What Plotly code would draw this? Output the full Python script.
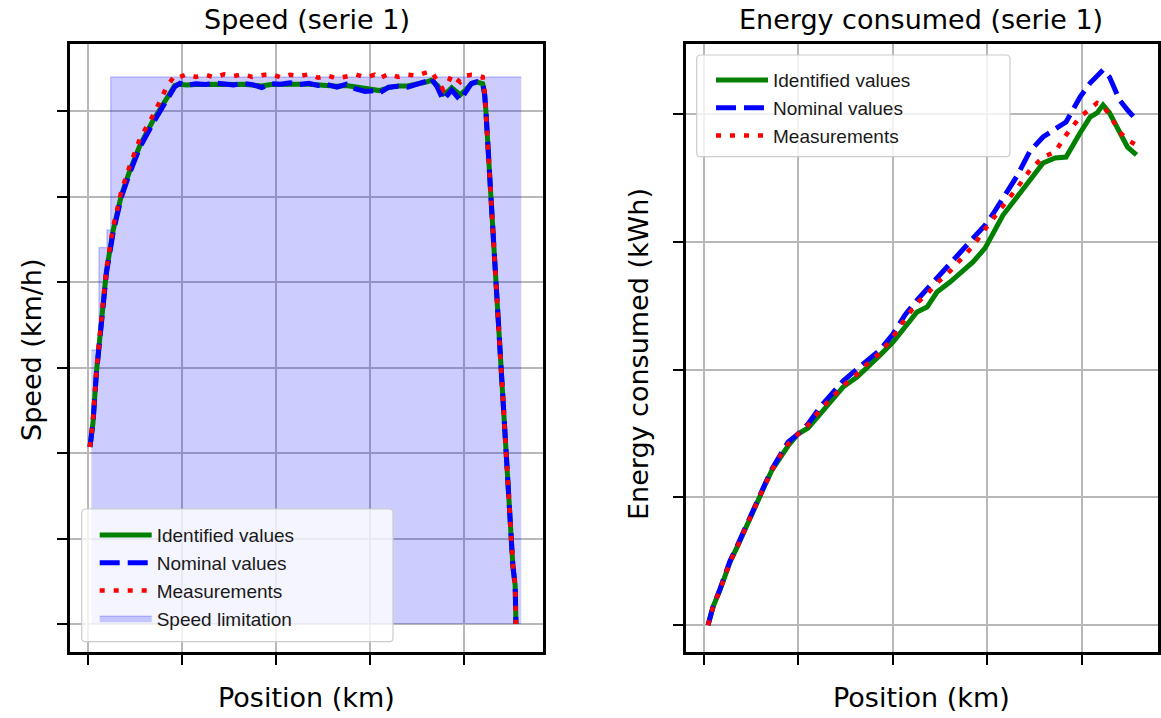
import plotly.graph_objects as go

# ---------------- Speed (serie 1) ----------------
speed_pos = [0.024, 0.056, 0.093, 0.146, 0.199, 0.27, 0.358, 0.447, 0.556, 0.695, 0.837, 0.926, 0.98,
             1.05, 1.15, 1.25, 1.35, 1.45, 1.55, 1.65, 1.75, 1.85, 1.95, 2.05, 2.15, 2.25, 2.35, 2.45,
             2.55, 2.65, 2.75, 2.85, 2.95, 3.05,
             3.1, 3.2, 3.3, 3.4, 3.5, 3.6, 3.65, 3.72, 3.78, 3.83, 3.87, 3.92, 3.96, 4.02, 4.08, 4.14, 4.2,
             4.22, 4.234, 4.287, 4.34, 4.394, 4.447, 4.5, 4.521, 4.545, 4.553]

speed_identified = [41.4, 47.0, 58.9, 70.8, 82.5, 92.0, 100.3, 106.0, 112.0, 117.8, 123.0, 126.0, 126.3,
                    126.1, 126.2, 126.3, 126.4, 126.3, 126.2, 126.3, 126.1, 125.9, 126.2, 126.3, 126.4, 126.3,
                    126.3, 126.1, 126.1, 125.8, 126.0, 125.6, 125.2, 125.0,
                    124.8, 125.5, 125.9, 125.9, 126.3, 126.8, 127.2, 126.0, 124.0, 124.6, 125.5, 124.5, 123.8,
                    125.0, 126.4, 126.8, 126.4,
                    124.0, 120.0, 100.0, 80.0, 60.0, 40.0, 20.0, 13.5, 9.0, 0.0]

speed_nominal = [41.4, 47.0, 58.7, 70.4, 82.1, 91.5, 99.9, 105.5, 111.6, 117.2, 122.6, 125.7, 126.5,
                 126.0, 126.4, 126.2, 126.6, 126.3, 126.1, 126.5, 126.2, 125.5, 126.4, 126.3, 126.6, 126.2,
                 126.5, 126.0, 126.2, 125.6, 126.3, 125.2, 124.6, 124.8,
                 124.2, 125.6, 125.8, 125.6, 126.2, 127.0, 127.8, 125.5, 122.6, 123.8, 124.9, 123.6, 122.6,
                 124.5, 126.5, 126.9, 126.4,
                 124.0, 120.0, 100.0, 80.0, 60.0, 40.0, 20.0, 13.5, 9.0, 0.0]

speed_measured = [41.4, 47.5, 59.5, 71.3, 83.2, 92.8, 101.3, 107.2, 113.6, 119.0, 125.5, 128.4, 128.0,
                  128.6, 128.0, 128.5, 127.9, 128.6, 128.2, 128.6, 128.0, 128.4, 128.7, 127.9, 128.5, 128.2,
                  128.6, 127.8, 128.3, 127.6, 128.2, 128.6, 127.9, 128.5,
                  127.6, 128.7, 128.0, 128.5, 128.3, 128.9, 129.4, 127.0, 125.0, 126.5, 128.5, 127.5, 126.8,
                  128.3, 128.5, 128.4, 128.0,
                  124.5, 120.0, 100.0, 80.0, 60.0, 40.0, 20.0, 13.5, 9.0, 0.0]

limit_pos = [0.039, 0.12, 0.205, 0.245, 4.61]
limit_speed = [64.1, 88.1, 92.2, 128.0, 128.0]

# ---------------- Energy consumed (serie 1) ----------------
energy_pos = [0.048, 0.100, 0.174, 0.280, 0.365, 0.492, 0.576, 0.650, 0.724, 0.809, 0.893, 0.999, 1.105,
              1.232, 1.369, 1.475, 1.623, 1.729, 1.866, 2.003, 2.130, 2.257, 2.363, 2.468, 2.606, 2.733,
              2.849, 2.976, 3.060, 3.166, 3.314, 3.451, 3.589, 3.716, 3.832, 3.980, 4.086, 4.160, 4.223,
              4.292, 4.398, 4.482, 4.577]

energy_identified = [0.0, 14.1, 27.4, 49.3, 62.6, 84.6, 97.9, 109.6, 121.4, 131.6, 140.2, 149.6, 154.3,
                     165.2, 177.8, 186.4, 194.2, 201.3, 211.4, 221.6, 232.6, 245.1, 249.0, 260.8, 268.6,
                     276.4, 284.3, 295.2, 307.0, 321.1, 335.2, 348.5, 361.8, 365.7, 366.5, 385.3, 397.8,
                     401.0, 407.2, 401.0, 385.3, 374.3, 368.1]

energy_nominal = [0.0, 14.1, 28.2, 50.1, 63.4, 85.4, 98.7, 110.4, 122.2, 132.3, 143.3, 149.6, 157.4,
                  170.7, 182.5, 191.1, 200.5, 207.5, 215.4, 227.9, 242.8, 254.5, 263.1, 272.5, 283.5,
                  292.9, 303.1, 313.2, 321.9, 334.4, 351.6, 371.2, 382.2, 388.4, 393.9, 413.5, 424.4,
                  429.9, 434.6, 429.1, 411.1, 403.3, 395.5]

energy_measured = [0.0, 14.1, 27.4, 49.3, 62.6, 84.6, 97.9, 109.6, 121.4, 132.3, 141.7, 149.6, 156.6,
                   168.4, 178.5, 187.2, 196.6, 204.4, 213.0, 225.5, 239.6, 252.2, 259.2, 267.8, 277.2,
                   287.4, 296.8, 310.1, 317.9, 328.9, 342.2, 356.3, 366.5, 370.4, 383.7, 397.8, 404.1,
                   408.8, 406.4, 399.4, 386.1, 379.8, 375.9]

x_ticks = [0, 1, 2, 3, 4]
speed_ticks = [0, 20, 40, 60, 80, 100, 120]
energy_ticks = [0, 100, 200, 300, 400]

W, H = 1161, 718
GREEN, BLUE, RED = "#008000", "#0000ff", "#ff0000"
LINE_W = 5
DASH = "20px,8px"
DOT = "5px,9px"


def px_x(p):
    return p / W


def px_y(p):
    return (H - p) / H


fig = go.Figure()

# left panel
fig.add_trace(go.Scatter(x=limit_pos, y=limit_speed, mode="lines", line_shape="hv",
                         fill="tozeroy", fillcolor="rgba(0,0,255,0.2)",
                         line=dict(color="rgba(0,0,255,0.2)", width=1.5),
                         name="Speed limitation", legend="legend", legendrank=4,
                         xaxis="x", yaxis="y"))
fig.add_trace(go.Scatter(x=speed_pos, y=speed_identified, mode="lines",
                         line=dict(color=GREEN, width=LINE_W), name="Identified values",
                         legend="legend", legendrank=1, xaxis="x", yaxis="y"))
fig.add_trace(go.Scatter(x=speed_pos, y=speed_nominal, mode="lines",
                         line=dict(color=BLUE, width=LINE_W, dash=DASH), name="Nominal values",
                         legend="legend", legendrank=2, xaxis="x", yaxis="y"))
fig.add_trace(go.Scatter(x=speed_pos, y=speed_measured, mode="lines",
                         line=dict(color=RED, width=4.5, dash=DOT), name="Measurements",
                         legend="legend", legendrank=3, xaxis="x", yaxis="y"))

# right panel
fig.add_trace(go.Scatter(x=energy_pos, y=energy_identified, mode="lines",
                         line=dict(color=GREEN, width=LINE_W), name="Identified values",
                         legend="legend2", legendrank=1, xaxis="x2", yaxis="y2"))
fig.add_trace(go.Scatter(x=energy_pos, y=energy_nominal, mode="lines",
                         line=dict(color=BLUE, width=LINE_W, dash=DASH), name="Nominal values",
                         legend="legend2", legendrank=2, xaxis="x2", yaxis="y2"))
fig.add_trace(go.Scatter(x=energy_pos, y=energy_measured, mode="lines",
                         line=dict(color=RED, width=4.5, dash=DOT), name="Measurements",
                         legend="legend2", legendrank=3, xaxis="x2", yaxis="y2"))

axis_style = dict(showticklabels=False, ticks="outside", ticklen=10, tickwidth=2, tickcolor="black",
                  showgrid=True, gridcolor="#b8b8b8", gridwidth=1.8, showline=True, linecolor="black",
                  linewidth=2.5, mirror=True, zeroline=False, fixedrange=True)

y_dom = [px_y(652), px_y(44)]
fig.update_layout(
    width=W, height=H, margin=dict(l=0, r=0, t=0, b=0), autosize=False,
    paper_bgcolor="white", plot_bgcolor="white",
    xaxis=dict(domain=[px_x(70), px_x(543.3)], range=[-0.188, 4.844], tickvals=x_ticks,
               anchor="y", **axis_style),
    yaxis=dict(domain=y_dom, range=[-6.55, 135.7], tickvals=speed_ticks, anchor="x", **axis_style),
    xaxis2=dict(domain=[px_x(686), px_x(1158)], range=[-0.185, 4.804], tickvals=x_ticks,
                anchor="y2", **axis_style),
    yaxis2=dict(domain=y_dom, range=[-21.1, 455.0], tickvals=energy_ticks, anchor="x2", **axis_style),
    showlegend=True,
    legend=dict(x=px_x(94.7), y=px_y(516.2), xanchor="left", yanchor="top",
                bgcolor="rgba(0,0,0,0)", borderwidth=0, itemwidth=52,
                font=dict(family="Liberation Sans", size=19, color="#1a1a1a"),
                traceorder="normal"),
    legend2=dict(x=px_x(711), y=px_y(61.2), xanchor="left", yanchor="top",
                 bgcolor="rgba(0,0,0,0)", borderwidth=0, itemwidth=52,
                 font=dict(family="Liberation Sans", size=19, color="#1a1a1a"),
                 traceorder="normal"),
)


def rounded_box(x0, y0, x1, y1, r=4):
    # pixel coords -> paper path with rounded corners
    rx, ry = r / W, r / H
    X0, X1 = px_x(x0), px_x(x1)
    Yt, Yb = px_y(y0), px_y(y1)
    return (f"M {X0+rx},{Yt} L {X1-rx},{Yt} Q {X1},{Yt} {X1},{Yt-ry} "
            f"L {X1},{Yb+ry} Q {X1},{Yb} {X1-rx},{Yb} L {X0+rx},{Yb} Q {X0},{Yb} {X0},{Yb+ry} "
            f"L {X0},{Yt-ry} Q {X0},{Yt} {X0+rx},{Yt} Z")


for (bx0, by0, bx1, by1) in [(81.7, 509, 393, 641.7), (696.7, 55, 1010, 156.7)]:
    fig.add_shape(type="path", path=rounded_box(bx0, by0, bx1, by1), xref="paper", yref="paper",
                  fillcolor="rgba(255,255,255,0.8)", line=dict(color="#cccccc", width=1.2),
                  layer="above")

title_font = dict(family="DejaVu Sans", size=27, color="black")
annots = [
    ("Speed (serie 1)", 306.5, 19, 0),
    ("Energy consumed (serie 1)", 921, 19, 0),
    ("Position (km)", 306.5, 697, 0),
    ("Position (km)", 921, 697, 0),
    ("Speed (km/h)", 31, 350, -90),
    ("Energy consumed (kWh)", 638, 354, -90),
]
for text, ax, ay, ang in annots:
    fig.add_annotation(text=text, x=px_x(ax), y=px_y(ay), xref="paper", yref="paper",
                       xanchor="center", yanchor="middle", showarrow=False, textangle=ang,
                       font=title_font)

fig.write_html("out.html")
